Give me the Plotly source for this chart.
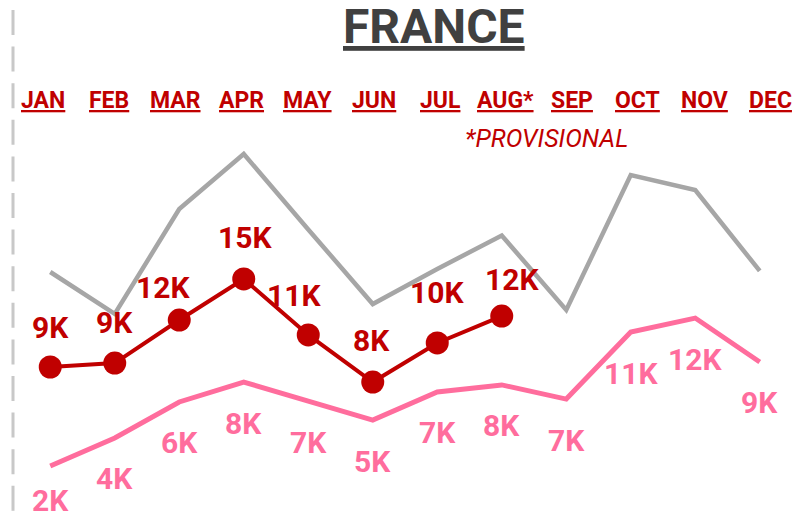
import plotly.graph_objects as go

months = ["JAN", "FEB", "MAR", "APR", "MAY", "JUN", "JUL", "AUG*", "SEP", "OCT", "NOV", "DEC"]
# values in thousands
prev2_year = [15.02, 12.26, 19.16, 22.78, 17.82, 12.91, 15.22, 17.42, 12.52, 21.40, 20.41, 15.09]   # grey
last_year = [2.26, 4.10, 6.47, 7.78, 6.53, 5.28, 7.13, 7.59, 6.66, 11.07, 11.99, 9.10]               # pink
this_year = [8.77, 9.03, 11.86, 14.56, 10.88, 7.78, 10.35, 12.12]                                     # red

title_text = "FRANCE"
note_text = "*PROVISIONAL"

GREY = "#a6a6a6"
PINK = "#ff6d9d"
RED = "#c00000"
DARK = "#404040"
FONT = "Roboto"

W, H = 804, 516
ML, MR = 18, 12
PW = W - ML - MR

def px_x(px):
    return (px - ML) / PW

def px_y(py):
    return 1 - py / H

x = list(range(len(months)))

fig = go.Figure()
fig.add_trace(go.Scatter(x=x, y=prev2_year, mode="lines",
                         line=dict(color=GREY, width=4.5), hoverinfo="skip"))
fig.add_trace(go.Scatter(x=x, y=last_year, mode="lines",
                         line=dict(color=PINK, width=5), hoverinfo="skip"))
fig.add_trace(go.Scatter(x=x[:len(this_year)], y=this_year, mode="lines+markers",
                         line=dict(color=RED, width=4),
                         marker=dict(color=RED, size=23), hoverinfo="skip"))

def fmt(v):
    return f"{int(v + 0.5)}K"

annotations = []
# red labels (above)
red_dx = [0, 0, -16, 1, -14, -1, 0, 10]
red_dy = [40, 41, 33, 41, 39, 42, 50, 37]
for i, v in enumerate(this_year):
    annotations.append(dict(x=i, y=v, xref="x", yref="y", text=fmt(v), showarrow=False,
                            xshift=red_dx[i], yshift=red_dy[i],
                            font=dict(family=FONT, size=30, color=RED, weight="bold")))
# pink labels (below)
pink_dy = [-35] + [-41] * (len(last_year) - 1)
for i, v in enumerate(last_year):
    annotations.append(dict(x=i, y=v, xref="x", yref="y", text=fmt(v), showarrow=False,
                            yshift=pink_dy[i],
                            font=dict(family=FONT, size=30, color=PINK, weight="bold")))

# title
annotations.append(dict(x=px_x(434), y=px_y(27), xref="paper", yref="paper", text=title_text,
                        showarrow=False, xanchor="center", yanchor="middle",
                        font=dict(family=FONT, size=48, color=DARK, weight="bold",
                                  lineposition="under")))
# month labels
for i, m in enumerate(months):
    annotations.append(dict(x=px_x(43 + 66.1 * i), y=px_y(100), xref="paper", yref="paper",
                            text=m, showarrow=False, xanchor="center", yanchor="middle",
                            font=dict(family=FONT, size=23, color=RED, weight="bold",
                                      lineposition="under")))
# provisional note
annotations.append(dict(x=px_x(546), y=px_y(138), xref="paper", yref="paper", text=note_text,
                        showarrow=False, xanchor="center", yanchor="middle",
                        font=dict(family=FONT, size=25, color=RED, style="italic")))

shapes = [dict(type="line", xref="paper", yref="paper",
               x0=px_x(13), x1=px_x(13), y0=px_y(10), y1=px_y(516),
               line=dict(color="#c8c8c8", width=3, dash="25px,11.6px"))]

fig.update_layout(
    width=W, height=H,
    margin=dict(l=ML, r=MR, t=0, b=0, pad=0),
    paper_bgcolor="white", plot_bgcolor="white",
    showlegend=False,
    xaxis=dict(range=[-0.5, 11.5], visible=False, fixedrange=True),
    yaxis=dict(range=[(500.3 - 516) / 15.2, 500.3 / 15.2], visible=False, fixedrange=True),
    annotations=annotations,
    shapes=shapes,
)

fig.write_html("out.html", config={"displayModeBar": False},
               post_script="document.body.style.margin='0px';document.body.style.overflow='hidden';")
